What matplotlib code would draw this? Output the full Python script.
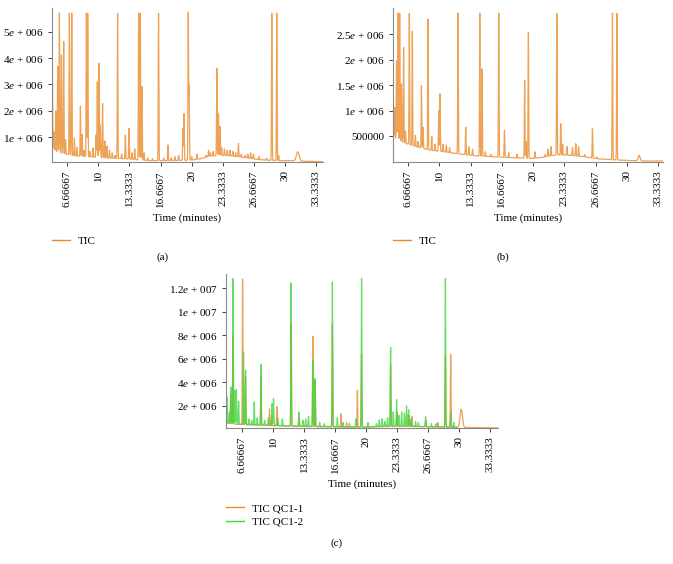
import matplotlib
matplotlib.use('Agg')
import matplotlib.pyplot as plt
from matplotlib.lines import Line2D
import numpy as np

plt.rcParams['font.family'] = ['Liberation Serif', 'DejaVu Serif']
plt.rcParams['font.size'] = 8
plt.rcParams['mathtext.fontset'] = 'custom'
plt.rcParams['mathtext.rm'] = 'Liberation Serif'
plt.rcParams['mathtext.it'] = 'Liberation Serif:italic'

ORANGE = '#E98B2A'
GREEN = '#3FD63F'

X_TICKS = [6.66667, 10, 13.3333, 16.6667, 20, 23.3333, 26.6667, 30, 33.3333]
X_LABELS = ['6.66667', '10', '13.3333', '16.6667', '20', '23.3333', '26.6667', '30', '33.3333']

# --- (a) TIC, values in 1e6 counts ---
A_BASE_T = [5.0, 5.5, 6.5, 7.5, 9, 11, 13, 14.8, 15.5, 17, 18.5, 20, 21, 22, 23.5, 25, 26, 27, 28, 29.5, 30.5, 32, 34.1]
A_BASE_V = [0.6, 0.45, 0.35, 0.28, 0.25, 0.2, 0.17, 0.12, 0.1, 0.1, 0.11, 0.12, 0.18, 0.28, 0.3, 0.25, 0.2, 0.15, 0.12, 0.1, 0.1, 0.08, 0.06]
A_PEAK_T = [5.07, 5.25, 5.45, 5.66, 5.84, 6.06, 6.3, 6.5, 6.91, 7.16, 7.45, 7.7, 8.09, 8.27, 8.5,
            8.73, 8.87, 9.1, 9.44, 9.77, 9.9, 10.08, 10.22, 10.46, 10.7, 10.93, 11.2, 11.5, 11.8,
            12.07, 12.5, 12.9, 13.29, 13.6, 13.9, 14.32, 14.5, 14.68, 14.9, 15.3, 15.8, 16.45,
            17.0, 17.46, 17.8, 18.2, 18.6, 19.06, 19.17, 19.63, 19.72, 20.0, 20.55, 21.2, 21.5,
            21.8, 22.0, 22.3, 22.69, 22.86, 23.04, 23.2, 23.5, 23.8, 24.1, 24.4, 24.7, 25.0, 25.3,
            25.7, 26.0, 26.3, 26.6, 27.2, 28.0, 28.57, 29.1, 29.3]
A_PEAK_H = [4.55, 1.2, 2.0, 3.68, 5.72, 4.12, 4.63, 0.9, 5.72, 5.72, 0.96, 0.6, 2.18, 1.1, 0.5,
            5.72, 5.72, 0.45, 0.58, 1.08, 3.1, 3.8, 1.46, 2.28, 0.85, 0.65, 0.5, 0.4, 0.3,
            5.72, 0.35, 1.08, 1.33, 0.4, 0.55, 5.72, 5.72, 2.92, 0.4, 0.2, 0.18, 5.72,
            0.2, 0.7, 0.2, 0.25, 0.3, 1.33, 1.9, 5.72, 2.9, 0.25, 0.35, 0.2, 0.3,
            0.5, 0.4, 0.45, 3.62, 1.9, 1.4, 0.6, 0.55, 0.5, 0.5, 0.45, 0.4, 0.76, 0.35,
            0.3, 0.35, 0.4, 0.35, 0.25, 0.2, 5.72, 5.72, 0.3]
A_BROAD = [(31.35, 0.44, 0.15)]

# --- (b) TIC ---
B_BASE_T = [5.0, 5.5, 6.5, 7.5, 9, 10.5, 12, 14, 16, 18, 20, 21, 22.5, 24, 25.5, 27, 28, 30, 32, 34.1]
B_BASE_V = [0.55, 0.42, 0.36, 0.3, 0.23, 0.2, 0.16, 0.12, 0.1, 0.08, 0.07, 0.09, 0.14, 0.13, 0.1, 0.06, 0.05, 0.03, 0.02, 0.02]
B_PEAK_T = [5.07, 5.25, 5.45, 5.6, 5.78, 5.97, 6.2, 6.4, 6.81, 7.13, 7.45, 7.75, 8.1, 8.27, 8.8,
            9.2, 9.55, 9.94, 10.08, 10.4, 10.75, 11.1, 12.0, 12.82, 13.15, 13.55, 14.32, 14.56,
            14.9, 15.5, 16.34, 16.95, 17.4, 18.3, 19.1, 19.25, 19.5, 20.2, 21.3, 21.6, 21.9,
            22.53, 22.95, 23.15, 23.6, 24.2, 24.55, 24.85, 25.5, 26.33, 26.8, 28.46, 28.93]
B_PEAK_H = [1.65, 1.07, 1.98, 2.91, 2.91, 1.53, 2.24, 0.6, 2.91, 2.56, 0.52, 0.4, 1.49, 0.68, 2.79,
            0.5, 0.35, 1.0, 1.33, 0.35, 0.33, 0.28, 2.91, 0.68, 0.3, 0.25, 2.91, 1.82,
            0.2, 0.15, 2.91, 0.62, 0.18, 0.15, 1.59, 0.4, 2.53, 0.2, 0.15, 0.25, 0.3,
            2.91, 0.75, 0.35, 0.3, 0.28, 0.36, 0.3, 0.15, 0.65, 0.1, 2.91, 2.91]
B_BROAD = [(31.3, 0.13, 0.1)]

# --- (c) TIC QC1-1 (orange) and QC1-2 (green) ---
C1_BASE_T = [5.0, 6, 8, 10, 12, 14, 16, 18, 20, 22, 24, 26, 28, 29.6, 31, 32.5, 34.1]
C1_BASE_V = [0.55, 0.45, 0.38, 0.32, 0.28, 0.25, 0.22, 0.2, 0.2, 0.26, 0.28, 0.24, 0.2, 0.18, 0.17, 0.15, 0.14]
C1_PEAK_T = [5.45, 5.7, 6.73, 7.05, 8.7, 9.62, 9.85, 10.41, 11.94, 12.8, 14.27, 14.52, 16.37,
             17.3, 17.9, 19.05, 19.5, 22.62, 23.3, 24.6, 24.9, 26.4, 27.7, 28.5, 29.07]
C1_PEAK_H = [3.0, 8.0, 12.8, 4.5, 4.5, 1.75, 1.2, 1.95, 9.0, 1.0, 7.94, 4.2, 9.0,
             1.35, 0.6, 3.34, 6.4, 5.5, 1.5, 1.2, 1.1, 0.8, 0.6, 6.3, 6.38]
C1_BROAD = [(30.2, 1.72, 0.13)]

C2_BASE_T = [5.0, 5.5, 6.5, 8, 10, 12, 14, 16, 18, 20, 22, 24, 26, 28, 29.7]
C2_BASE_V = [0.6, 0.5, 0.45, 0.4, 0.35, 0.3, 0.28, 0.25, 0.22, 0.22, 0.3, 0.3, 0.25, 0.22, 0.2]
C2_PEAK_T = [5.05, 5.3, 5.49, 5.7, 5.9, 6.06, 6.3, 6.83, 7.05, 7.4, 7.7, 7.98, 8.3, 8.7, 9.1,
             9.5, 9.9, 10.05, 10.5, 11.0, 11.94, 12.77, 13.2, 13.5, 13.8, 14.27, 14.52, 15.0,
             15.5, 16.37, 16.9, 17.5, 18.2, 18.9, 19.5, 20.2, 21.1, 21.4, 21.7, 22.0, 22.3,
             22.62, 22.9, 23.26, 23.5, 23.8, 24.1, 24.33, 24.55, 24.8, 25.3, 25.6, 26.37, 27.0,
             27.5, 28.5, 29.07, 29.4]
C2_PEAK_H = [2.77, 1.5, 3.62, 12.8, 3.3, 3.4, 2.4, 6.6, 5.04, 0.9, 0.8, 2.34, 1.0, 5.55, 0.8,
             1.0, 2.2, 2.63, 1.0, 0.9, 12.43, 1.5, 0.8, 0.9, 1.1, 5.9, 4.33, 0.6,
             0.5, 12.56, 1.0, 0.6, 0.5, 0.9, 12.8, 0.6, 0.5, 0.8, 0.9, 0.7, 1.0,
             6.97, 1.5, 2.55, 1.2, 1.5, 1.4, 2.0, 1.7, 0.9, 0.7, 0.6, 1.1, 0.5,
             0.5, 12.8, 1.5, 0.6]

A_YTICKS = [1, 2, 3, 4, 5]
A_YLABELS = ['1$\\mathit{e}$ + 006', '2$\\mathit{e}$ + 006', '3$\\mathit{e}$ + 006',
             '4$\\mathit{e}$ + 006', '5$\\mathit{e}$ + 006']
B_YTICKS = [0.5, 1, 1.5, 2, 2.5]
B_YLABELS = ['500000', '1$\\mathit{e}$ + 006', '1.5$\\mathit{e}$ + 006',
             '2$\\mathit{e}$ + 006', '2.5$\\mathit{e}$ + 006']
C_YTICKS = [2, 4, 6, 8, 10, 12]
C_YLABELS = ['2$\\mathit{e}$ + 006', '4$\\mathit{e}$ + 006', '6$\\mathit{e}$ + 006',
             '8$\\mathit{e}$ + 006', '1$\\mathit{e}$ + 007', '1.2$\\mathit{e}$ + 007']


def trace(t_end, base_t, base_v, pk_t, pk_h, broad=(), sigma=0.03):
    t = np.arange(5.0, t_end, 0.004)
    y = np.interp(t, base_t, base_v)
    for t0, h in zip(pk_t, pk_h):
        b0 = np.interp(t0, base_t, base_v)
        y = y + (h - b0) * np.exp(-0.5 * ((t - t0) / sigma) ** 2)
    for t0, h, s in broad:
        b0 = np.interp(t0, base_t, base_v)
        y = y + (h - b0) * np.exp(-0.5 * ((t - t0) / s) ** 2)
    return t, y * 1e6


def style_axes(ax, xlim, ylim, yticks, ylabels):
    ax.set_xlim(*xlim)
    ax.set_ylim(ylim[0] * 1e6, ylim[1] * 1e6)
    ax.set_xticks(X_TICKS)
    ax.set_xticklabels(X_LABELS, rotation=90)
    ax.set_yticks([v * 1e6 for v in yticks])
    ax.set_yticklabels(ylabels)
    for s in ('top', 'right'):
        ax.spines[s].set_visible(False)
    for s in ('left', 'bottom'):
        ax.spines[s].set_color('#8a8a8a')
        ax.spines[s].set_linewidth(0.8)
    ax.tick_params(length=3, width=0.7, color='#444444', pad=3, labelsize=8)
    ax.set_xlabel('Time (minutes)', labelpad=5)


fig = plt.figure(figsize=(6.73, 5.64), dpi=100)
W, H = 673.0, 564.0

ax_a = fig.add_axes([52 / W, 1 - 162 / H, 271 / W, 154 / H])
ax_b = fig.add_axes([393 / W, 1 - 162 / H, 270 / W, 154 / H])
ax_c = fig.add_axes([226 / W, 1 - 428 / H, 272 / W, 154 / H])

t, y = trace(34.1, A_BASE_T, A_BASE_V, A_PEAK_T, A_PEAK_H, A_BROAD)
ax_a.plot(t, y, color=ORANGE, lw=0.9, alpha=0.8)
style_axes(ax_a, (5.05, 34.05), (0.05, 5.91), A_YTICKS, A_YLABELS)

t, y = trace(34.1, B_BASE_T, B_BASE_V, B_PEAK_T, B_PEAK_H, B_BROAD)
ax_b.plot(t, y, color=ORANGE, lw=0.9, alpha=0.8)
style_axes(ax_b, (5.07, 33.85), (0.0, 3.01), B_YTICKS, B_YLABELS)

t, y = trace(34.15, C1_BASE_T, C1_BASE_V, C1_PEAK_T, C1_PEAK_H, C1_BROAD)
ax_c.plot(t, y, color=ORANGE, lw=0.9, alpha=0.8)
t, y = trace(29.7, C2_BASE_T, C2_BASE_V, C2_PEAK_T, C2_PEAK_H)
ax_c.plot(t, y, color=GREEN, lw=0.9, alpha=0.8)
style_axes(ax_c, (4.95, 34.15), (0.13, 13.2), C_YTICKS, C_YLABELS)

# legends under each panel
leg_kw = dict(loc='center left', frameon=False, bbox_transform=fig.transFigure,
              handlelength=1.6, handletextpad=0.75, borderpad=0, borderaxespad=0,
              labelspacing=0.35, fontsize=8)
ax_a.legend([Line2D([], [], color=ORANGE, lw=1)], ['TIC'],
            bbox_to_anchor=(52 / W, 1 - 241 / H), **leg_kw)
ax_b.legend([Line2D([], [], color=ORANGE, lw=1)], ['TIC'],
            bbox_to_anchor=(393 / W, 1 - 241 / H), **leg_kw)
ax_c.legend([Line2D([], [], color=ORANGE, lw=1), Line2D([], [], color=GREEN, lw=1)],
            ['TIC QC1-1', 'TIC QC1-2'], bbox_to_anchor=(226 / W, 1 - 515 / H), **leg_kw)

fig.text(163 / W, 1 - 257 / H, '(a)', ha='center', va='center', fontsize=8)
fig.text(503 / W, 1 - 257 / H, '(b)', ha='center', va='center', fontsize=8)
fig.text(337 / W, 1 - 543 / H, '(c)', ha='center', va='center', fontsize=8)

fig.savefig('out.png', dpi=100)
